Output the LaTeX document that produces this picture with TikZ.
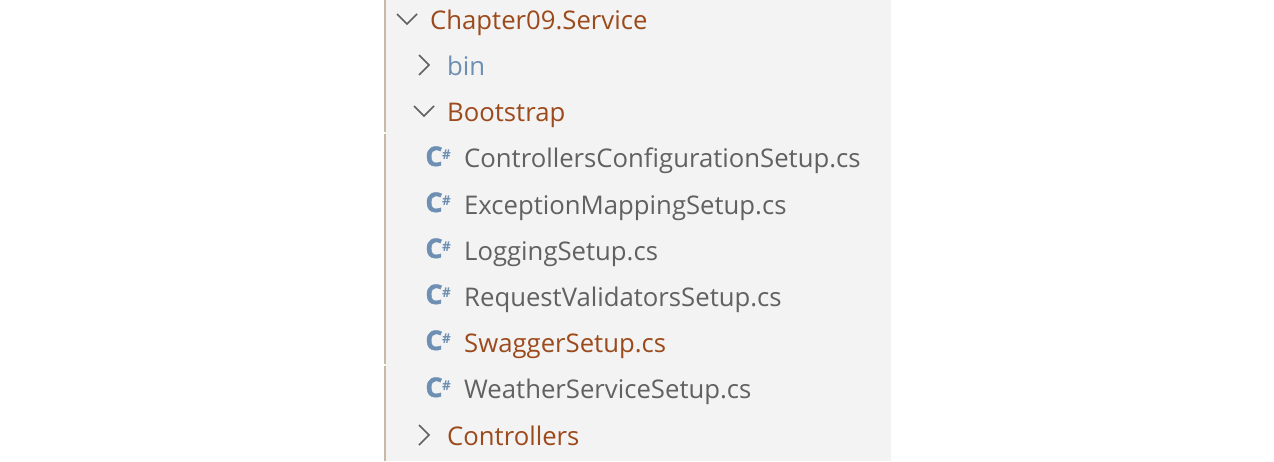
\documentclass[tikz,border=0pt]{standalone}
\usepackage{fontspec}
\usepackage{xcolor}
\setmainfont{Open Sans}
\newfontfamily\iconfont[BoldFeatures={FakeBold=1.5}]{Open Sans}
\usetikzlibrary{shapes, positioning}
\definecolor{panelgrey}{HTML}{F3F3F3}
\definecolor{modbrown}{HTML}{9C4A1C}
\definecolor{filegrey}{HTML}{616161}
\definecolor{binblue}{HTML}{6C8FB3}
\definecolor{edgetan}{HTML}{C9B8A6}
\tikzset{
    entry/.style={anchor=base west, inner sep=0pt, font=\fontsize{25.7}{28}\selectfont},
    modified/.style={entry, text=modbrown},
    plainfile/.style={entry, text=filegrey},
    csicon/.style={anchor=base, inner sep=0pt, text=binblue, font=\iconfont\fontsize{27}{28}\bfseries\selectfont},
    sharpmark/.style={anchor=center, inner sep=0pt, text=binblue, font=\fontsize{13.5}{14}\bfseries\selectfont},
    twisty/.style={draw=filegrey, line width=1.5pt}
}

\begin{document}
\begin{tikzpicture}[x=1pt, y=-1pt]
        \useasboundingbox (0, 0) rectangle (1274, 461);
        \fill[panelgrey] (385, 0) rectangle (891, 461);
        \draw[edgetan, line width=2pt] (385, 0) to (385, 132)
        (385, 134) to (385, 364)
        (385, 366) to (385, 461);

        \node[modified] at (430, 29) (chapter) {Chapter09.Service};
        \node[entry, text=binblue] at (447, 75) (bin) {bin};
        \node[modified] at (447, 121) (bootstrap) {Bootstrap};
        \node[plainfile] at (464, 167.5) (controllerssetup) {ControllersConfigurationSetup.cs};
        \node[plainfile] at (464, 214) (exceptionsetup) {ExceptionMappingSetup.cs};
        \node[plainfile] at (464, 260) (loggingsetup) {LoggingSetup.cs};
        \node[plainfile] at (464, 306) (validatorssetup) {RequestValidatorsSetup.cs};
        \node[modified] at (464, 352) (swaggersetup) {SwaggerSetup.cs};
        \node[plainfile] at (464, 398.5) (weathersetup) {WeatherServiceSetup.cs};
        \node[modified] at (447, 445) (controllers) {Controllers};

        \draw[twisty] (397, 14) -- (407, 24) -- (417, 14);
        \draw[twisty] (419, 55) -- (429, 65) -- (419, 75);
        \draw[twisty] (414, 106) -- (424, 116) -- (434, 106);
        \draw[twisty] (419, 425) -- (429, 435) -- (419, 445);

        \foreach \rowname/\rowy in {a/166, b/212, c/258, d/304, e/350, f/397} {
            \node[csicon] at (434, \rowy) (icon\rowname) {C};
            \node[sharpmark] at (446.5, \rowy-11) (sharp\rowname) {\#};
        }
    \end{tikzpicture}
\end{document}
